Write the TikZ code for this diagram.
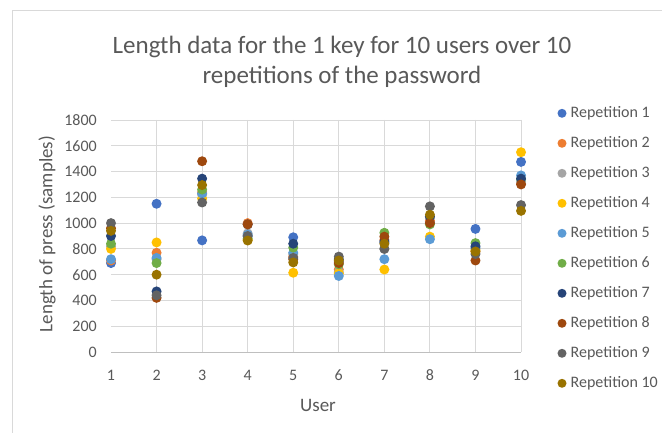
\documentclass[tikz,border=0pt]{standalone}
\usepackage{fontspec}
\setmainfont{Carlito}
\definecolor{rA}{HTML}{4472C4}
\definecolor{rB}{HTML}{ED7D31}
\definecolor{rC}{HTML}{A5A5A5}
\definecolor{rD}{HTML}{FFC000}
\definecolor{rE}{HTML}{5B9BD5}
\definecolor{rF}{HTML}{70AD47}
\definecolor{rG}{HTML}{264478}
\definecolor{rH}{HTML}{9E480E}
\definecolor{rI}{HTML}{636363}
\definecolor{rJ}{HTML}{997300}
\definecolor{gridc}{HTML}{D9D9D9}
\definecolor{axisc}{HTML}{BFBFBF}
\definecolor{txtc}{HTML}{595959}
\begin{document}
\begin{tikzpicture}[x=1pt,y=-1pt,
  gridline/.style={draw=gridc,line width=0.9pt},
  axisline/.style={draw=axisc,line width=0.9pt},
  ticklab/.style={text=txtc,inner sep=0pt,font=\fontsize{16}{17}\selectfont},
  legtext/.style={text=txtc,inner sep=0pt,anchor=west,font=\fontsize{16}{17}\selectfont},
  dot/.style={circle,inner sep=0pt,minimum size=10pt}]
\useasboundingbox (0,0) rectangle (662,433);
\fill[white] (0,0) rectangle (662,433);
\draw[draw=gridc,line width=1pt] (12,433) -- (12,11) -- (662,11);
% grid
\foreach \v in {200,400,...,1800}
  \draw[gridline] (111,{352-\v*0.12889}) -- (521,{352-\v*0.12889});
\foreach \u in {2,...,10}
  \draw[gridline] ({111+(\u-1)*45.56},{352-1800*0.12889}) -- ({111+(\u-1)*45.56},352);
\draw[axisline] (111,352) -- (521,352);
% tick labels
\foreach \v in {0,200,...,1800}
  \node[ticklab,anchor=east] at (97,{352-\v*0.12889}) {\v};
\foreach \u in {1,...,10}
  \node[ticklab] at ({111+(\u-1)*45.56},375) {\u};
% titles
\node[text=txtc,align=center,font=\fontsize{25}{30}\selectfont] (title) at (342,62)
  {Length data for the 1 key for 10 users over 10\\repetitions of the password};
\node[text=txtc,font=\fontsize{19}{20}\selectfont] (xt) at (318,405) {User};
\node[text=txtc,rotate=90,font=\fontsize{19}{20}\selectfont] (yt) at (47,234) {Length of press (samples)};
% data: one list per repetition, values for users 1..10
\def\plotrep#1#2{%
  \foreach \val [count=\u] in {#2}
    \fill[#1] ({111+(\u-1)*45.56},{352-\val*0.12889}) circle (5);}
\plotrep{rA}{690,1150,866,900,890,700,850,1010,955,1475}
\plotrep{rB}{710,770,1240,1000,740,640,870,1020,780,1310}
\plotrep{rC}{820,720,1220,920,760,620,800,1040,800,1320}
\plotrep{rD}{800,850,1190,870,615,610,640,895,790,1550}
\plotrep{rE}{720,730,1230,910,770,590,720,875,810,1370}
\plotrep{rF}{840,690,1260,880,810,680,925,990,845,1340}
\plotrep{rG}{900,470,1345,990,840,720,860,1050,820,1345}
\plotrep{rH}{960,420,1480,990,720,690,895,1000,710,1300}
\plotrep{rI}{1000,440,1160,900,730,740,800,1130,760,1140}
\plotrep{rJ}{940,600,1295,865,695,710,840,1065,780,1095}
% legend
\foreach \c/\t [count=\i] in {rA/Repetition 1,rB/Repetition 2,rC/Repetition 3,rD/Repetition 4,rE/Repetition 5,rF/Repetition 6,rG/Repetition 7,rH/Repetition 8,rI/Repetition 9,rJ/Repetition 10}{
  \fill[\c] (562,{113.3+(\i-1)*30}) circle (4.5);
  \node[legtext] (leg\i) at (570.5,{113.3+(\i-1)*30}) {\t};
}
\end{tikzpicture}
\end{document}
